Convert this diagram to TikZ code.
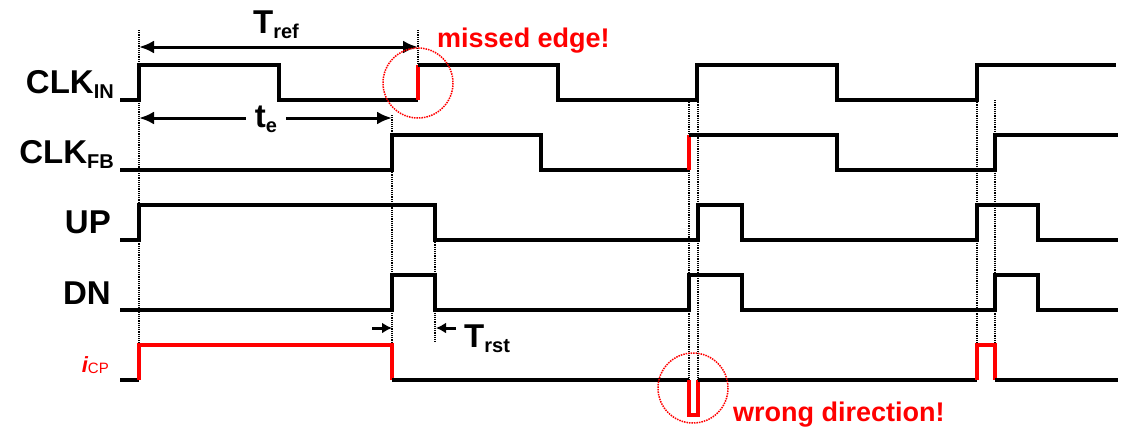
\documentclass[tikz,border=0pt]{standalone}
\usepackage{fontspec}
\setmainfont{Liberation Sans}
\usetikzlibrary{arrows.meta,positioning}
\tikzset{
  wave/.style={line width=3.2pt,line join=miter},
  waveRed/.style={wave,red},
  guide/.style={densely dotted,line width=1.2pt},
  ring/.style={red,densely dotted,line width=1.5pt},
  sigtxt/.style={font=\fontsize{33}{33}\selectfont\bfseries,inner sep=0pt},
  notetxt/.style={font=\fontsize{27}{27}\selectfont\bfseries,text=red,inner sep=0pt},
  dimArrow/.style={{Latex[length=15pt,width=13pt]}-{Latex[length=15pt,width=13pt]},line width=3pt},
  tinyArrow/.style={-{Latex[length=10pt,width=11pt]},line width=3pt}
}
\newcommand{\lowsub}[1]{\raisebox{-0.16em}{\fontsize{20}{20}\selectfont #1}}

\begin{document}
\begin{tikzpicture}[x=1pt,y=-1pt]
  \useasboundingbox (0,0) rectangle (1126,429);
  % signal names
  \node[sigtxt,anchor=base east] (lblin) at (114,93) {CLK\lowsub{IN}};
  \node[sigtxt,anchor=base east] (lblfb) at (114,163) {CLK\lowsub{FB}};
  \node[sigtxt,anchor=base east] (lblup) at (111,233) {UP};
  \node[sigtxt,anchor=base east] (lbldn) at (111,304) {DN};
  \node[inner sep=0pt,anchor=base east,text=red] (lblcp) at (109,372)
    {\fontsize{22}{22}\selectfont\bfseries\itshape i\fontsize{15}{15}\selectfont\mdseries\upshape\raisebox{-1pt}{CP}};
  % guides
  \foreach \x/\ya/\yb in {139/30/345,418/30/65,392/115/345,435/240/342,
                          689/100/380,698/100/380,977/100/345,995/100/345}
    \draw[guide] (\x,\ya) -- (\x,\yb);
  % waveforms
  \draw[wave] (120,100) -| (139,65) -| (279,100) -- (418,100);
  \draw[waveRed] (418,100) -- (418,65);
  \draw[wave] (418,65) -| (558,100) -| (697,65) -| (837,100) -| (977,65) -- (1116,65);
  \draw[wave] (120,170) -| (392,135) -| (541,170) -- (689,170);
  \draw[waveRed] (689,170) -- (689,135);
  \draw[wave] (689,135) -| (837,170) -| (995,135) -- (1118,135);
  \draw[wave] (120,240) -| (139,205) -| (435,240) -| (698,205) -| (742,240)
    -| (977,205) -| (1038,240) -- (1118,240);
  \draw[wave] (120,310) -| (392,275) -| (435,310) -| (689,275) -| (742,310)
    -| (995,275) -| (1038,310) -- (1118,310);
  \draw[wave] (120,380) -- (139,380);
  \draw[waveRed] (139,380) |- (392,345) -- (392,380);
  \draw[wave] (392,380) -- (689,380);
  \draw[waveRed] (689,380) -- (689,415) -| (698,380);
  \draw[wave] (698,380) -- (977,380);
  \draw[waveRed] (977,380) |- (995,345) -- (995,380);
  \draw[wave] (995,380) -- (1118,380);
  % periods
  \coordinate (refL) at (139,47);
  \coordinate (refR) at (418,47);
  \draw[dimArrow] (refL) -- (refR);
  \node[sigtxt,anchor=base] (tref) at (276,33) {T\lowsub{ref}};
  \coordinate (teL) at (139,118);
  \coordinate (teR) at (392,118);
  \draw[dimArrow] (teL) -- (teR);
  \node[sigtxt,anchor=base,fill=white,inner xsep=9pt] (te) at (266,127) {t\lowsub{e}};
  \coordinate (rstA) at (372,328);
  \coordinate (rstB) at (392,328);
  \coordinate (rstC) at (456,328);
  \coordinate (rstD) at (436,328);
  \draw[tinyArrow] (rstA) -- (rstB);
  \draw[tinyArrow] (rstC) -- (rstD);
  \node[sigtxt,anchor=base west] (trst) at (464,347) {T\lowsub{rst}};
  % remarks
  \draw[ring] (418,83) circle (35);
  \draw[ring] (693,388) circle (35);
  \node[notetxt,anchor=base west] (missed) at (437,47) {missed edge!};
  \node[notetxt,anchor=base west] (wrong) at (733,421) {wrong direction!};
\end{tikzpicture}
\end{document}
